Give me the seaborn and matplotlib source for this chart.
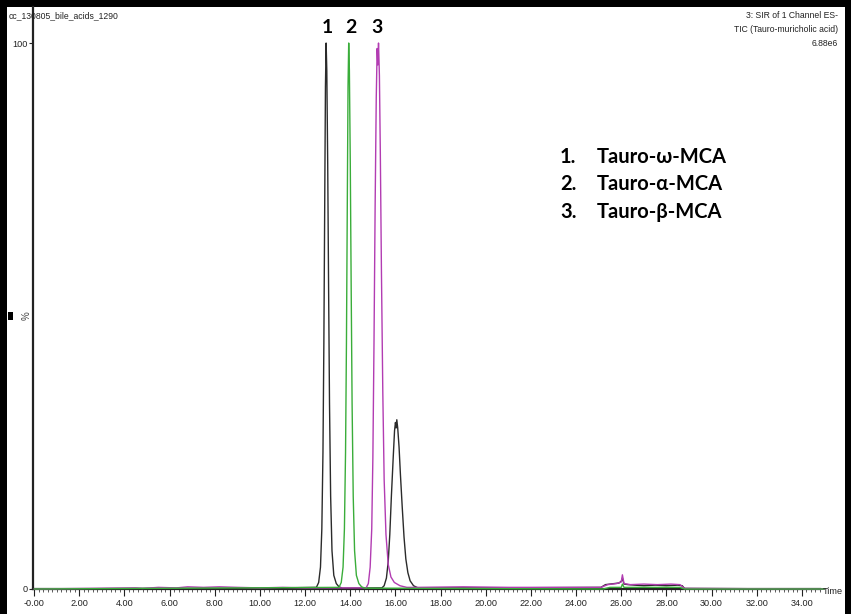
import numpy as np
import pandas as pd
import seaborn as sns
import matplotlib.pyplot as plt
from matplotlib.patches import Rectangle
from matplotlib.ticker import MultipleLocator, FixedLocator

# ---------------- data ----------------
black_t = [0.0, 5.0, 9.0, 12.5, 12.6, 12.68, 12.74, 12.79, 12.83, 12.87, 12.9, 12.93, 12.96,
           13.0, 13.04, 13.08, 13.13, 13.19, 13.27, 13.38, 13.5, 13.65,
           15.4, 15.5, 15.6, 15.68, 15.75, 15.82, 15.9, 15.96, 16.0, 16.03, 16.06, 16.1,
           16.16, 16.22, 16.3, 16.38, 16.46, 16.55, 16.65, 16.8, 17.0,
           20.0, 25.1, 25.3, 25.5, 25.7, 25.9, 26.0, 26.05, 26.12, 26.3, 26.6, 27.0, 27.5,
           28.0, 28.5, 28.7, 28.8, 35.0]
black_i = [0.0, 0.1, 0.1, 0.3, 1.2, 4.0, 11.0, 25.0, 45.0, 72.0, 92.0, 100.0, 95.0,
           78.0, 55.0, 34.0, 17.0, 7.0, 2.5, 1.0, 0.4, 0.15,
           0.2, 0.6, 2.0, 5.0, 10.0, 17.0, 24.0, 29.0, 30.5, 29.5, 31.0, 29.5,
           26.0, 21.0, 15.0, 9.5, 5.5, 3.0, 1.5, 0.6, 0.2,
           0.2, 0.3, 0.8, 0.9, 1.0, 1.1, 1.4, 2.0, 0.9, 0.8, 0.7, 0.6, 0.7,
           0.6, 0.7, 0.6, 0.1, 0.0]

green_t = [0.0, 13.5, 13.6, 13.68, 13.74, 13.79, 13.83, 13.87, 13.9, 13.93, 13.96, 14.0,
           14.04, 14.08, 14.13, 14.19, 14.27, 14.38, 14.5, 14.65, 25.2, 25.5, 26.0, 26.05,
           26.12, 27.0, 28.6, 28.8, 35.0]
green_i = [0.0, 0.3, 1.2, 4.0, 11.0, 25.0, 45.0, 72.0, 92.0, 100.0, 95.0, 78.0,
           55.0, 34.0, 17.0, 7.0, 2.5, 1.0, 0.4, 0.15, 0.0, 0.3, 0.3, 0.9,
           0.3, 0.3, 0.3, 0.0, 0.0]

magenta_t = [0.0, 4.5, 4.8, 5.5, 6.3, 6.8, 7.5, 8.2, 9.0, 10.0, 11.0, 12.0, 14.7, 14.8,
             14.88, 14.95, 15.0, 15.05, 15.1, 15.15, 15.19, 15.22, 15.25, 15.29, 15.33,
             15.38, 15.44, 15.5, 15.58, 15.68, 15.8, 15.95, 16.2, 16.5, 17.0, 19.0, 21.0,
             23.0, 25.1, 25.4, 25.8, 26.0, 26.05, 26.12, 26.4, 27.0, 27.6, 28.2, 28.6,
             28.8, 35.0]
magenta_i = [0.0, 0.2, 0.1, 0.3, 0.2, 0.4, 0.3, 0.4, 0.3, 0.2, 0.3, 0.2, 0.2, 1.0,
             4.0, 11.0, 24.0, 45.0, 70.0, 90.0, 99.0, 96.0, 100.0, 94.0, 80.0,
             58.0, 36.0, 20.0, 10.0, 4.5, 2.2, 1.2, 0.6, 0.3, 0.3, 0.4, 0.3,
             0.3, 0.3, 0.8, 1.0, 1.3, 2.6, 1.0, 0.8, 0.9, 0.8, 0.9, 0.8,
             0.1, 0.0]

x_ticks = list(range(0, 35, 2))
x_tick_labels = ["-0.00"] + [f"{v:.2f}" for v in x_ticks[1:]]
peak_labels = ["1", "2", "3"]
peak_label_times = [12.97, 14.02, 15.18]
compound_names = ["Tauro-\u03c9-MCA", "Tauro-\u03b1-MCA", "Tauro-\u03b2-MCA"]

df = pd.concat([
    pd.DataFrame({"Time": black_t, "Intensity": black_i, "trace": "black"}),
    pd.DataFrame({"Time": green_t, "Intensity": green_i, "trace": "green"}),
    pd.DataFrame({"Time": magenta_t, "Intensity": magenta_i, "trace": "magenta"}),
])

# ---------------- figure ----------------
sns.set_theme(style="ticks")
plt.rcParams['font.family'] = ['Liberation Sans Narrow', 'Liberation Sans', 'DejaVu Sans']

W, H = 851, 614
fx = lambda px: px / W
fy = lambda py: 1 - py / H

fig = plt.figure(figsize=(W / 100, H / 100), dpi=100, facecolor='black')
fig.patches.append(Rectangle((fx(7), 0), fx(845) - fx(7), fy(7), transform=fig.transFigure,
                             facecolor='white', edgecolor='none', zorder=-10))
fig.patches.append(Rectangle((fx(8), fy(320)), fx(5), fy(312) - fy(320), transform=fig.transFigure,
                             facecolor='black', edgecolor='none', zorder=-5))

ax = fig.add_axes([fx(33), 1 - 589 / H, fx(820) - fx(33), (589 - 7) / H])
ax.set_facecolor('none')

colors = {"black": "#2b2b2b", "green": "#3aad3a", "magenta": "#b23cb2"}
for name, z in [("black", 3), ("magenta", 3.2), ("green", 3.4)]:
    sub = df[df.trace == name]
    sns.lineplot(data=sub, x="Time", y="Intensity", color=colors[name], lw=1.0,
                 sort=False, estimator=None, ax=ax, zorder=z, clip_on=False)

ax.set_xlim(-0.05, 34.8)
ax.set_ylim(0, 106.6)
ax.set_xlabel("")
ax.set_ylabel("")

for s in ["top", "right"]:
    ax.spines[s].set_visible(False)
ax.spines["left"].set_linewidth(1.6)
ax.spines["bottom"].set_linewidth(1.6)
ax.spines["left"].set_color("#222222")
ax.spines["bottom"].set_color("#222222")

ax.xaxis.set_major_locator(FixedLocator(x_ticks))
ax.set_xticklabels(x_tick_labels)
ax.xaxis.set_minor_locator(MultipleLocator(0.2))
ax.yaxis.set_major_locator(FixedLocator([0, 100]))
ax.set_yticklabels(["0", "100"])
ax.tick_params(axis='x', which='major', length=5, width=0.8, color='#222222',
               labelsize=6.6, pad=2.5, labelcolor='#222222')
ax.tick_params(axis='x', which='minor', length=2.5, width=0.6, color='#444444')
ax.tick_params(axis='y', which='major', length=3, width=0.8, color='#222222',
               labelsize=6.6, pad=1, labelcolor='#222222')

# texts
fs_small = 6.2
fig.text(fx(9), fy(16), "cc_130805_bile_acids_1290", fontsize=fs_small, color='#222222',
         ha='left', va='center')
fig.text(fx(838), fy(16), "3: SIR of 1 Channel ES-", fontsize=fs_small, color='#222222',
         ha='right', va='center')
fig.text(fx(838), fy(30), "TIC (Tauro-muricholic acid)", fontsize=fs_small, color='#222222',
         ha='right', va='center')
fig.text(fx(838), fy(44), "6.88e6", fontsize=fs_small, color='#222222', ha='right', va='center')
fig.text(fx(27), fy(316), "%", fontsize=7, color='#444444', ha='center', va='center',
         rotation=90)
fig.text(fx(823), fy(591), "Time", fontsize=6.6, color='#222222', ha='left', va='center')

for lab, t in zip(peak_labels, peak_label_times):
    ax.annotate(lab, xy=(t, 100), xytext=(0, 11), textcoords='offset points',
                ha='center', va='center', fontsize=14, fontweight='bold',
                family=['Lato', 'DejaVu Sans'], color='black')

for i, name in enumerate(compound_names):
    y = fy(157 + i * 27.5)
    fig.text(fx(560), y, f"{i + 1}.", fontsize=14.5, fontweight='bold',
             family=['Lato', 'DejaVu Sans'], ha='left', va='center', color='black')
    fig.text(fx(597), y, name, fontsize=14.5, fontweight='bold',
             family=['Lato', 'DejaVu Sans'], ha='left', va='center', color='black')

fig.savefig("out.png", dpi=100, facecolor=fig.get_facecolor())
